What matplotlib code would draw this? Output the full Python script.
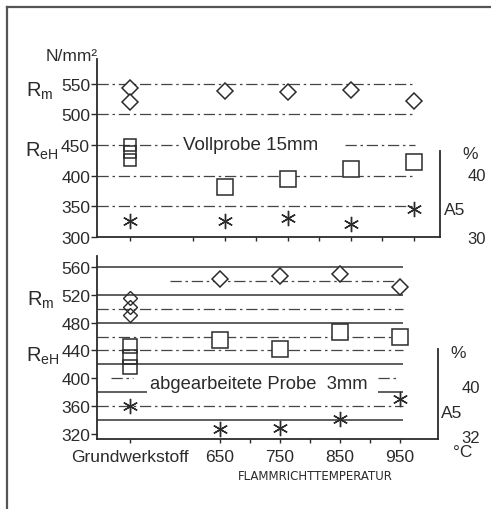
import matplotlib
matplotlib.use('Agg')
import matplotlib.pyplot as plt
from matplotlib.lines import Line2D
from matplotlib.transforms import blended_transform_factory as blend

plt.rcParams['font.family'] = ['Liberation Sans', 'DejaVu Sans']
plt.rcParams['mathtext.default'] = 'regular'

INK = '#2b2b2b'

# x positions: Grundwerkstoff placed before the flame straightening temperatures
x_pos = [500, 650, 750, 850, 950]
x_labels = ['Grundwerkstoff', '650', '750', '850', '950']

# Vollprobe 15mm (top)
top_rm_grund = [542, 520]
top_rm = [538, 537, 540, 522]
top_reh_grund = [450, 438, 426]
top_reh = [382, 395, 411, 422]
top_a5 = [32.5, 32.5, 33.0, 32.1, 34.4]

# abgearbeitete Probe 3mm (bottom)
bot_rm_grund = [515, 503, 491]
bot_rm = [543, 547, 550, 531]
bot_reh_grund = [446, 431, 416]
bot_reh = [455, 442, 467, 460]
bot_a5 = [36.8, 33.1, 33.2, 34.7, 37.9]

top_yticks = [300, 350, 400, 450, 500, 550]
bot_yticks = [320, 360, 400, 440, 480, 520, 560]
top_grid = [550, 500, 400, 350]
bot_solid = [560, 520, 480, 420, 340]
bot_dashed = [500, 460, 440, 360]

dashdot = (0, (9, 3, 2, 3))

fig = plt.figure(figsize=(4.91, 5.10), dpi=100)
fig.patch.set_facecolor('white')

# frame of the scanned page
fig.add_artist(Line2D([7/491, 1], [1-8/510, 1-8/510], transform=fig.transFigure, color='#555', lw=1.6))
fig.add_artist(Line2D([7/491, 7/491], [0, 1-8/510], transform=fig.transFigure, color='#555', lw=1.6))


def base_axes(rect, xlim, ylim, yticks):
    ax = fig.add_axes(rect)
    ax.set_facecolor('none')
    ax.set_xlim(*xlim)
    ax.set_ylim(*ylim)
    for s in ['top', 'right']:
        ax.spines[s].set_visible(False)
    for s in ['left', 'bottom']:
        ax.spines[s].set_color(INK)
        ax.spines[s].set_linewidth(1.3)
    ax.set_yticks(yticks)
    ax.tick_params(axis='y', direction='out', length=4, width=1, colors=INK, labelsize=12.5, pad=1)
    ax.tick_params(axis='x', direction='out', length=3, width=1, colors=INK)
    return ax


# ---------------- top panel ----------------
ax1 = base_axes([97/491, 1-238/510, 343/491, 178/510], (447.6, 992), (300, 590), top_yticks)
ax1.set_xticks([500, 600, 650, 700, 750, 800, 850, 900, 950])
ax1.set_xticklabels([])
for y in top_grid:
    ax1.hlines(y, 447.6, 952, color='#444', lw=0.9, linestyle=dashdot)
ax1.hlines(450, 447.6, 579, color='#444', lw=0.9, linestyle=dashdot)
ax1.hlines(450, 841, 952, color='#444', lw=0.9, linestyle=dashdot)

ax1.plot([x_pos[0]]*len(top_rm_grund), top_rm_grund, 'D', ms=8, mfc='white', mec=INK, mew=1.1)
ax1.plot(x_pos[1:], top_rm, 'D', ms=8, mfc='white', mec=INK, mew=1.1)
ax1.plot([x_pos[0]]*len(top_reh_grund), top_reh_grund, 's', ms=9, mfc='none', mec=INK, mew=1.1)
ax1.plot(x_pos[1:], top_reh, 's', ms=11, mfc='white', mec=INK, mew=1.1)

ax1r = ax1.twinx()
ax1r.set_position(ax1.get_position())
ax1r.set_ylim(30, 58.25)
for s in ['top', 'left', 'bottom']:
    ax1r.spines[s].set_visible(False)
ax1r.spines['right'].set_bounds(30, 43.7)
ax1r.spines['right'].set_color(INK)
ax1r.spines['right'].set_linewidth(1.3)
ax1r.set_yticks([30, 40])
ax1r.tick_params(axis='y', length=0, pad=20, labelsize=12, colors=INK)
ax1r.plot(x_pos, top_a5, ls='none', marker=(6, 2, 0), ms=11, mec=INK, mew=1.0)

ax1.text(584, 451, 'Vollprobe 15mm', fontsize=13.5, color=INK, va='center', ha='left',
         bbox=dict(facecolor='white', edgecolor='none', pad=1))
ax1.text(-0.073, 1.02, 'N/mm²', transform=ax1.transAxes, fontsize=12.5, color=INK, ha='center', va='center')
ax1.text(-0.166, 539, 'R$_m$', transform=blend(ax1.transAxes, ax1.transData), fontsize=14.5, color=INK, ha='center', va='center')
ax1.text(-0.16, 441, 'R$_{eH}$', transform=blend(ax1.transAxes, ax1.transData), fontsize=14.5, color=INK, ha='center', va='center')
ax1r.text(1.087, 43.2, '%', transform=blend(ax1r.transAxes, ax1r.transData), fontsize=12.5, color=INK, ha='center', va='center')
ax1r.text(1.044, 34.4, 'A5', transform=blend(ax1r.transAxes, ax1r.transData), fontsize=12.5, color=INK, ha='center', va='center')

# ---------------- bottom panel ----------------
ax2 = base_axes([97/491, 1-440/510, 341/491, 183/510], (445, 1013), (312.7, 575.8), bot_yticks)
ax2.set_xticks(x_pos)
ax2.set_xticklabels(x_labels, fontsize=12.5, color=INK)
ax2.set_xticks([700, 800, 900], minor=True)
ax2.tick_params(axis='x', which='both', direction='out', length=3, width=1, colors=INK, pad=4)

for y in bot_solid:
    ax2.hlines(y, 445, 955, color='#333', lw=1.1)
for y in bot_dashed:
    ax2.hlines(y, 445, 955, color='#444', lw=0.9, linestyle=dashdot)
ax2.hlines(540, 567, 955, color='#444', lw=0.9, linestyle=dashdot)
ax2.hlines(400, 468, 505, color='#444', lw=0.9, linestyle=dashdot)
ax2.hlines(400, 913, 945, color='#444', lw=0.9, linestyle=dashdot)
ax2.hlines(380, 445, 528, color='#333', lw=1.1)
ax2.hlines(380, 913, 955, color='#333', lw=1.1)

ax2.plot([x_pos[0]]*len(bot_rm_grund), bot_rm_grund, 'D', ms=7, mfc='none', mec=INK, mew=1.0)
ax2.plot(x_pos[1:], bot_rm, 'D', ms=8, mfc='white', mec=INK, mew=1.1)
ax2.plot([x_pos[0]]*len(bot_reh_grund), bot_reh_grund, 's', ms=9.5, mfc='none', mec=INK, mew=1.1)
ax2.plot(x_pos[1:], bot_reh, 's', ms=11.5, mfc='white', mec=INK, mew=1.1)

ax2r = ax2.twinx()
ax2r.set_position(ax2.get_position())
ax2r.set_ylim(31.52, 60.8)
for s in ['top', 'left', 'bottom']:
    ax2r.spines[s].set_visible(False)
ax2r.spines['right'].set_bounds(31.52, 45.9)
ax2r.spines['right'].set_color(INK)
ax2r.spines['right'].set_linewidth(1.3)
ax2r.set_yticks([32, 40])
ax2r.tick_params(axis='y', length=0, pad=17, labelsize=12, colors=INK)
ax2r.plot(x_pos, bot_a5, ls='none', marker=(6, 2, 0), ms=11, mec=INK, mew=1.0)

ax2.text(533, 392, 'abgearbeitete Probe  3mm', fontsize=13.2, color=INK, va='center', ha='left',
         bbox=dict(facecolor='white', edgecolor='none', pad=0.5))
ax2.text(-0.166, 514, 'R$_m$', transform=blend(ax2.transAxes, ax2.transData), fontsize=14.5, color=INK, ha='center', va='center')
ax2.text(-0.16, 433, 'R$_{eH}$', transform=blend(ax2.transAxes, ax2.transData), fontsize=14.5, color=INK, ha='center', va='center')
ax2r.text(1.059, 45.4, '%', transform=blend(ax2r.transAxes, ax2r.transData), fontsize=12.5, color=INK, ha='center', va='center')
ax2r.text(1.041, 35.8, 'A5', transform=blend(ax2r.transAxes, ax2r.transData), fontsize=12.5, color=INK, ha='center', va='center')
ax2.text(1.044, -0.066, '°C', transform=ax2.transAxes, fontsize=12.5, color=INK, ha='left', va='center')
ax2.text(808, -0.2, 'FLAMMRICHTTEMPERATUR', transform=blend(ax2.transData, ax2.transAxes),
         fontsize=8.5, color=INK, ha='center', va='center', family=['DejaVu Sans'])

fig.savefig('out.png', dpi=100, facecolor='white')
